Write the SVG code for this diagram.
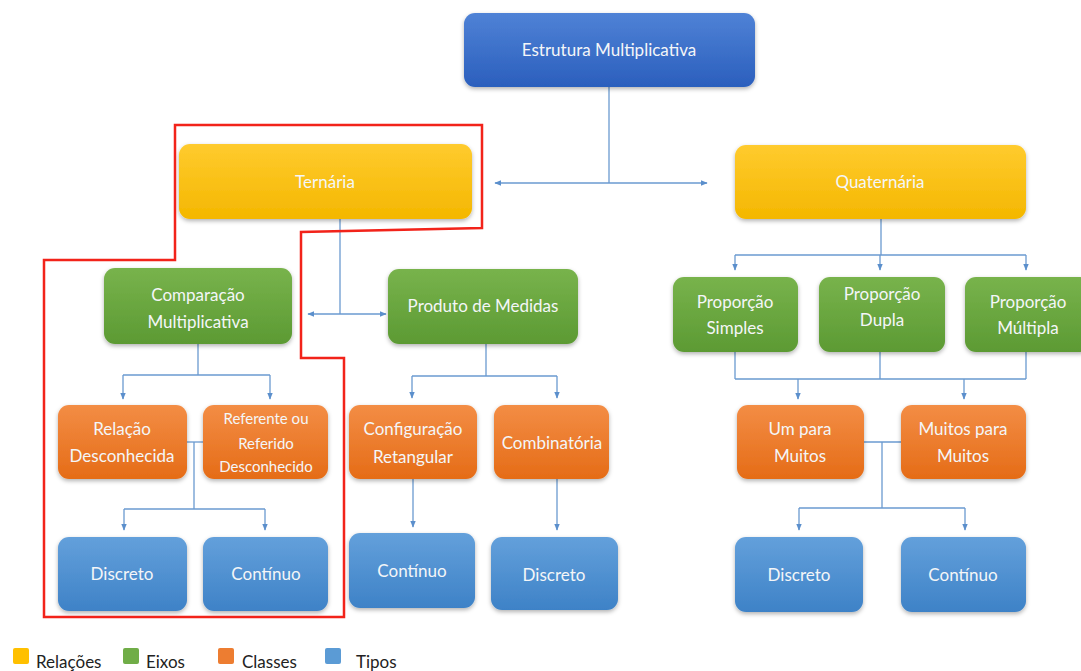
<svg xmlns="http://www.w3.org/2000/svg" width="1081" height="671" viewBox="0 0 1081 671">
<style>
.t{font-family:Lato,"Open Sans","Liberation Sans",sans-serif;font-size:17px;fill:#f4f6f8;text-anchor:middle}
.s{font-size:15px}
.c{fill:none;stroke:#6a9ad0;stroke-width:1.3}
.lg{font-family:Lato,"Open Sans","Liberation Sans",sans-serif;font-size:17px;fill:#222}
.red{fill:none;stroke:#f2231a;stroke-width:2.5}
</style>
<defs>
<linearGradient id="gBlue" x1="0" y1="0" x2="0" y2="1"><stop offset="0" stop-color="#4f82d6"/><stop offset="1" stop-color="#2b5fbd"/></linearGradient>
<linearGradient id="gYel" x1="0" y1="0" x2="0" y2="1"><stop offset="0" stop-color="#ffcb2e"/><stop offset="1" stop-color="#f4b700"/></linearGradient>
<linearGradient id="gGrn" x1="0" y1="0" x2="0" y2="1"><stop offset="0" stop-color="#78b34c"/><stop offset="1" stop-color="#5c9a33"/></linearGradient>
<linearGradient id="gOrg" x1="0" y1="0" x2="0" y2="1"><stop offset="0" stop-color="#f38d45"/><stop offset="1" stop-color="#e56c17"/></linearGradient>
<linearGradient id="gLb" x1="0" y1="0" x2="0" y2="1"><stop offset="0" stop-color="#63a0db"/><stop offset="1" stop-color="#3e82c7"/></linearGradient>
<filter id="sh" x="-10%" y="-10%" width="120%" height="130%"><feDropShadow dx="0" dy="2" stdDeviation="2" flood-color="#000" flood-opacity="0.3"/></filter>
<marker id="ar" viewBox="0 0 10 10" refX="9" refY="5" markerWidth="7" markerHeight="7" orient="auto-start-reverse" markerUnits="userSpaceOnUse"><path d="M0,1 L10,5 L0,9 Z" fill="#5b8fcc"/></marker>
</defs>

<g id="connectors">
<path class="c" d="M609,87 V183"/>
<path class="c" d="M495,183 H707" marker-start="url(#ar)" marker-end="url(#ar)"/>
<path class="c" d="M340,219 V314"/>
<path class="c" d="M308,314 H386" marker-start="url(#ar)" marker-end="url(#ar)"/>
<path class="c" d="M198,344 V375"/>
<path class="c" d="M123,375 H270"/>
<path class="c" d="M123,375 V399" marker-end="url(#ar)"/>
<path class="c" d="M270,375 V399" marker-end="url(#ar)"/>
<path class="c" d="M187,442 H203"/>
<path class="c" d="M194,442 V509"/>
<path class="c" d="M124,509 H265"/>
<path class="c" d="M124,509 V530" marker-end="url(#ar)"/>
<path class="c" d="M265,509 V530" marker-end="url(#ar)"/>
<path class="c" d="M486,344 V376"/>
<path class="c" d="M412,376 H557"/>
<path class="c" d="M412,376 V398" marker-end="url(#ar)"/>
<path class="c" d="M557,376 V398" marker-end="url(#ar)"/>
<path class="c" d="M413,479 V527" marker-end="url(#ar)"/>
<path class="c" d="M557,479 V530" marker-end="url(#ar)"/>
<path class="c" d="M881,219 V255"/>
<path class="c" d="M735,255 H1026"/>
<path class="c" d="M735,255 V270" marker-end="url(#ar)"/>
<path class="c" d="M880,255 V270" marker-end="url(#ar)"/>
<path class="c" d="M1026,255 V270" marker-end="url(#ar)"/>
<path class="c" d="M735,352 V379 M880,352 V379 M1026,352 V379 M735,379 H1026"/>
<path class="c" d="M798,379 V399" marker-end="url(#ar)"/>
<path class="c" d="M964,379 V399" marker-end="url(#ar)"/>
<path class="c" d="M864,442 H901"/>
<path class="c" d="M882,442 V508"/>
<path class="c" d="M799,508 H965"/>
<path class="c" d="M799,508 V530" marker-end="url(#ar)"/>
<path class="c" d="M965,508 V530" marker-end="url(#ar)"/>
</g>

<g id="n-estrutura"><rect x="464" y="13" width="291" height="74" rx="11" fill="url(#gBlue)" filter="url(#sh)"/><text class="t" x="609" y="56">Estrutura Multiplicativa</text></g>
<g id="n-ternaria"><rect x="179" y="144" width="293" height="75" rx="11" fill="url(#gYel)" filter="url(#sh)"/><text class="t" x="325" y="188">Ternária</text></g>
<g id="n-quaternaria"><rect x="735" y="145" width="291" height="74" rx="11" fill="url(#gYel)" filter="url(#sh)"/><text class="t" x="880" y="188">Quaternária</text></g>

<g id="n-comparacao"><rect x="104" y="268" width="188" height="76" rx="11" fill="url(#gGrn)" filter="url(#sh)"/><text class="t" x="198" y="301">Comparação</text><text class="t" x="198" y="328">Multiplicativa</text></g>
<g id="n-produto"><rect x="388" y="269" width="190" height="75" rx="11" fill="url(#gGrn)" filter="url(#sh)"/><text class="t" x="483" y="312">Produto de Medidas</text></g>
<g id="n-simples"><rect x="673" y="277" width="125" height="75" rx="11" fill="url(#gGrn)" filter="url(#sh)"/><text class="t" x="735" y="308">Proporção</text><text class="t" x="735" y="334">Simples</text></g>
<g id="n-dupla"><rect x="819" y="277" width="126" height="75" rx="11" fill="url(#gGrn)" filter="url(#sh)"/><text class="t" x="882" y="300">Proporção</text><text class="t" x="882" y="326">Dupla</text></g>
<g id="n-multipla"><rect x="965" y="277" width="126" height="75" rx="11" fill="url(#gGrn)" filter="url(#sh)"/><text class="t" x="1028" y="308">Proporção</text><text class="t" x="1028" y="334">Múltipla</text></g>

<g id="n-relacao"><rect x="58" y="405" width="129" height="74" rx="11" fill="url(#gOrg)" filter="url(#sh)"/><text class="t" x="122" y="435">Relação</text><text class="t" x="122" y="462">Desconhecida</text></g>
<g id="n-referente"><rect x="203" y="405" width="125" height="74" rx="11" fill="url(#gOrg)" filter="url(#sh)"/><text class="t s" x="266" y="424">Referente ou</text><text class="t s" x="266" y="449">Referido</text><text class="t s" x="266" y="472">Desconhecido</text></g>
<g id="n-configuracao"><rect x="349" y="405" width="128" height="74" rx="11" fill="url(#gOrg)" filter="url(#sh)"/><text class="t" x="413" y="435">Configuração</text><text class="t" x="413" y="463">Retangular</text></g>
<g id="n-combinatoria"><rect x="494" y="405" width="115" height="74" rx="11" fill="url(#gOrg)" filter="url(#sh)"/><text class="t" x="552" y="449">Combinatória</text></g>
<g id="n-umpara"><rect x="737" y="405" width="127" height="74" rx="11" fill="url(#gOrg)" filter="url(#sh)"/><text class="t" x="800" y="435">Um para</text><text class="t" x="800" y="462">Muitos</text></g>
<g id="n-muitospara"><rect x="901" y="405" width="125" height="74" rx="11" fill="url(#gOrg)" filter="url(#sh)"/><text class="t" x="963" y="435">Muitos para</text><text class="t" x="963" y="462">Muitos</text></g>

<g id="n-discreto1"><rect x="58" y="537" width="129" height="74" rx="11" fill="url(#gLb)" filter="url(#sh)"/><text class="t" x="122" y="580">Discreto</text></g>
<g id="n-continuo1"><rect x="203" y="537" width="125" height="74" rx="11" fill="url(#gLb)" filter="url(#sh)"/><text class="t" x="266" y="580">Contínuo</text></g>
<g id="n-continuo2"><rect x="349" y="533" width="126" height="75" rx="11" fill="url(#gLb)" filter="url(#sh)"/><text class="t" x="412" y="577">Contínuo</text></g>
<g id="n-discreto2"><rect x="491" y="537" width="127" height="73" rx="11" fill="url(#gLb)" filter="url(#sh)"/><text class="t" x="554" y="581">Discreto</text></g>
<g id="n-discreto3"><rect x="735" y="537" width="128" height="75" rx="11" fill="url(#gLb)" filter="url(#sh)"/><text class="t" x="799" y="581">Discreto</text></g>
<g id="n-continuo3"><rect x="901" y="537" width="125" height="75" rx="11" fill="url(#gLb)" filter="url(#sh)"/><text class="t" x="963" y="581">Contínuo</text></g>

<path id="highlight" class="red" d="M175,125 H482 V228 L301,232 V358 H344 V617 H44 V260 H175 Z"/>

<g id="legend">
<rect x="13" y="648" width="16" height="16" rx="2" fill="#ffc000"/><text class="lg" x="36" y="668">Relações</text>
<rect x="123" y="648" width="16" height="16" rx="2" fill="#70ad47"/><text class="lg" x="146" y="668">Eixos</text>
<rect x="218" y="648" width="16" height="16" rx="2" fill="#ed7d31"/><text class="lg" x="242" y="668">Classes</text>
<rect x="325" y="648" width="16" height="16" rx="2" fill="#5b9bd5"/><text class="lg" x="356" y="668">Tipos</text>
</g>
</svg>
